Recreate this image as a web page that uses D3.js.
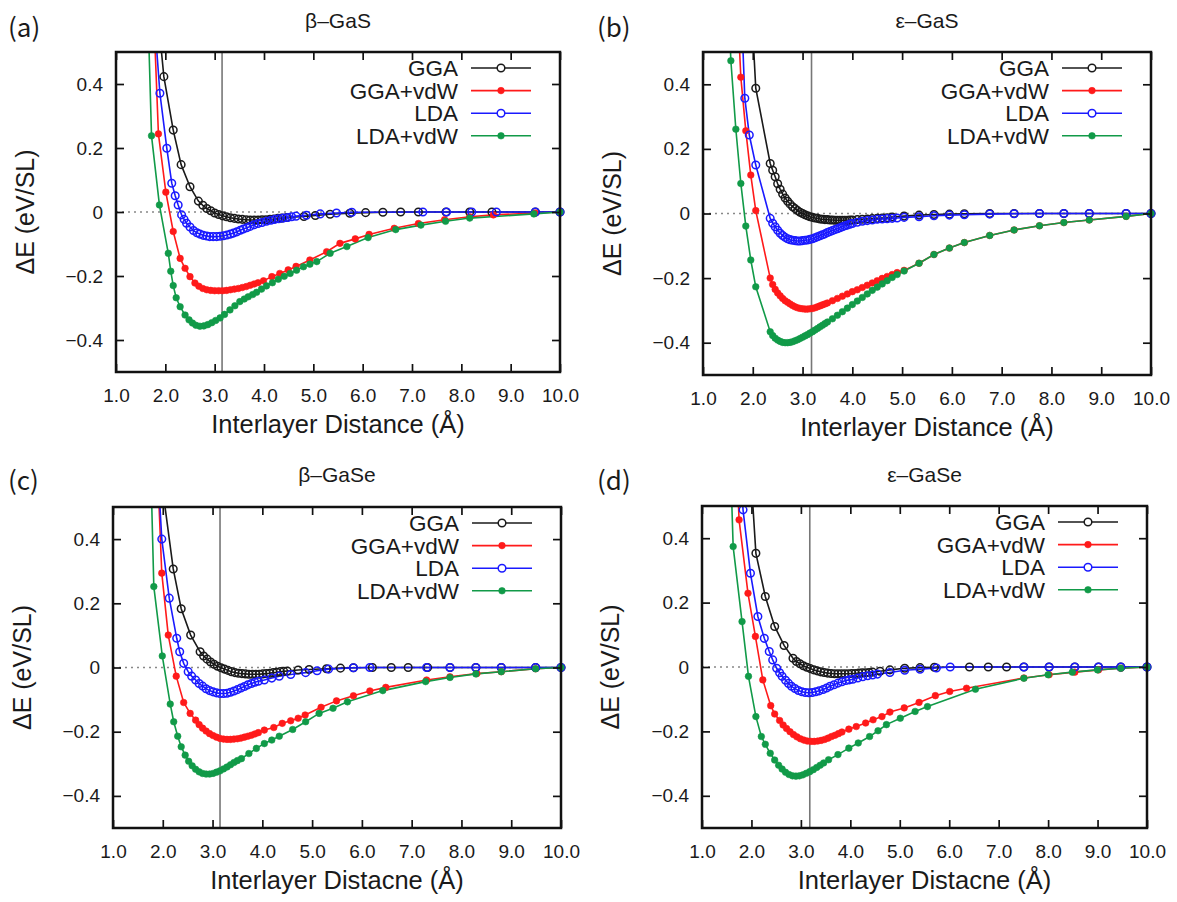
<!DOCTYPE html>
<html>
<head>
<meta charset="utf-8">
<script src="https://cdn.jsdelivr.net/npm/d3@7/dist/d3.min.js"></script>
<style>
  body { margin: 0; background: #fff; }
  text { font-family: "Liberation Sans", Arial, sans-serif; fill: #1a1a1a; }
  .lbl { font-family: "Noto Sans CJK KR", "Noto Sans", sans-serif; }
</style>
</head>
<body>
<svg id="chart" width="1177" height="902"></svg>
<script>
// Series names, ticks and reference lines.
var seriesNames = ["GGA", "GGA+vdW", "LDA", "LDA+vdW"];
var xTicks = [1, 2, 3, 4, 5, 6, 7, 8, 9, 10];
var yTicks = [-0.4, -0.2, 0, 0.2, 0.4];
var panelTitles = ["β–GaS", "ε–GaS", "β–GaSe", "ε–GaSe"];
var xTitles = ["Interlayer Distance (Å)", "Interlayer Distance (Å)", "Interlayer Distacne (Å)", "Interlayer Distacne (Å)"];
var refDistance = [3.15, 3.18, 3.15, 3.18];

// (a) beta-GaS, [distance, dE]
var aGGA = [[1.86,0.60],[1.97,0.423],[2.16,0.256],[2.32,0.148],[2.50,0.079],[2.67,0.034],[2.76,0.021],[2.84,0.011],[2.92,0.004],[3.00,-0.003],[3.08,-0.008],[3.16,-0.012],[3.24,-0.015],[3.32,-0.018],[3.40,-0.020],[3.48,-0.022],[3.56,-0.023],[3.64,-0.024],[3.72,-0.025],[3.80,-0.025],[3.88,-0.025],[3.96,-0.024],[4.04,-0.024],[4.12,-0.023],[4.20,-0.022],[4.28,-0.020],[4.36,-0.019],[4.46,-0.017],[4.81,-0.014],[5.04,-0.011],[5.34,-0.007],[5.74,-0.004],[6.06,-0.002],[6.41,-0.001],[6.77,0],[7.13,0],[7.69,0],[8.17,0],[8.62,0],[9.50,0],[10.0,0]];
var aGGAvdW = [[1.78,0.56],[1.86,0.244],[2.01,0.062],[2.16,-0.061],[2.30,-0.145],[2.40,-0.176],[2.50,-0.202],[2.60,-0.222],[2.68,-0.232],[2.76,-0.239],[2.84,-0.243],[2.92,-0.245],[3.00,-0.246],[3.08,-0.246],[3.16,-0.246],[3.24,-0.245],[3.32,-0.243],[3.40,-0.241],[3.48,-0.239],[3.56,-0.236],[3.64,-0.233],[3.72,-0.229],[3.80,-0.225],[3.88,-0.221],[3.99,-0.215],[4.16,-0.202],[4.32,-0.192],[4.49,-0.181],[4.65,-0.170],[4.93,-0.150],[5.27,-0.124],[5.54,-0.098],[5.85,-0.084],[6.13,-0.070],[6.64,-0.051],[7.13,-0.036],[7.66,-0.024],[8.17,-0.015],[8.65,-0.009],[9.50,-0.003],[10.0,0]];
var aLDA = [[1.80,0.56],[1.89,0.371],[2.03,0.199],[2.13,0.090],[2.20,0.051],[2.26,0.022],[2.33,-0.009],[2.38,-0.023],[2.43,-0.035],[2.50,-0.047],[2.57,-0.058],[2.64,-0.065],[2.70,-0.069],[2.77,-0.073],[2.84,-0.075],[2.90,-0.077],[2.97,-0.077],[3.04,-0.077],[3.11,-0.076],[3.18,-0.074],[3.25,-0.072],[3.32,-0.069],[3.38,-0.066],[3.45,-0.062],[3.52,-0.057],[3.58,-0.053],[3.65,-0.049],[3.72,-0.045],[3.80,-0.040],[3.88,-0.036],[3.96,-0.033],[4.05,-0.029],[4.14,-0.026],[4.22,-0.023],[4.30,-0.021],[4.39,-0.019],[4.48,-0.017],[4.56,-0.015],[4.65,-0.013],[4.86,-0.010],[5.14,-0.006],[5.47,-0.003],[5.78,-0.001],[7.22,0],[7.70,0],[8.21,0],[8.71,0],[9.50,0],[10.0,0]];
var aLDAvdW = [[1.66,0.56],[1.72,0.238],[1.88,0.022],[2.06,-0.129],[2.11,-0.185],[2.16,-0.230],[2.22,-0.268],[2.30,-0.296],[2.40,-0.322],[2.48,-0.337],[2.55,-0.347],[2.62,-0.354],[2.70,-0.357],[2.78,-0.356],[2.86,-0.352],[2.94,-0.346],[3.02,-0.339],[3.11,-0.331],[3.20,-0.320],[3.31,-0.306],[3.41,-0.293],[3.51,-0.280],[3.60,-0.272],[3.68,-0.265],[3.77,-0.258],[3.85,-0.251],[3.95,-0.241],[4.05,-0.231],[4.17,-0.221],[4.29,-0.210],[4.41,-0.201],[4.53,-0.192],[4.66,-0.182],[4.80,-0.171],[4.93,-0.163],[5.07,-0.155],[5.34,-0.129],[5.68,-0.108],[6.11,-0.080],[6.67,-0.055],[7.18,-0.041],[7.68,-0.029],[8.17,-0.019],[9.47,-0.006],[10.0,0]];

// (b) epsilon-GaS
var bGGA = [[1.98,0.62],[2.06,0.388],[2.35,0.155],[2.40,0.134],[2.45,0.114],[2.50,0.092],[2.55,0.075],[2.60,0.060],[2.65,0.048],[2.70,0.038],[2.75,0.029],[2.80,0.021],[2.85,0.015],[2.90,0.009],[2.95,0.004],[3.00,0.000],[3.05,-0.004],[3.10,-0.007],[3.15,-0.010],[3.20,-0.012],[3.25,-0.014],[3.30,-0.015],[3.35,-0.017],[3.40,-0.018],[3.45,-0.019],[3.50,-0.019],[3.55,-0.020],[3.60,-0.020],[3.65,-0.021],[3.70,-0.021],[3.75,-0.021],[3.80,-0.021],[3.85,-0.021],[3.90,-0.021],[3.95,-0.020],[4.00,-0.020],[4.10,-0.019],[4.20,-0.018],[4.30,-0.017],[4.40,-0.016],[4.50,-0.015],[4.60,-0.014],[4.70,-0.013],[4.80,-0.011],[5.04,-0.008],[5.34,-0.005],[5.64,-0.003],[5.95,-0.002],[6.25,-0.001],[6.76,0],[7.25,0],[7.76,0],[8.25,0],[8.76,0],[9.50,0],[10.0,0]];
var bGGAvdW = [[1.70,0.62],[1.76,0.422],[1.86,0.256],[1.96,0.119],[2.06,0.009],[2.35,-0.200],[2.40,-0.220],[2.45,-0.235],[2.50,-0.246],[2.55,-0.255],[2.60,-0.263],[2.65,-0.270],[2.70,-0.275],[2.75,-0.280],[2.80,-0.285],[2.85,-0.289],[2.90,-0.292],[2.95,-0.294],[3.00,-0.295],[3.05,-0.296],[3.10,-0.296],[3.15,-0.295],[3.20,-0.294],[3.25,-0.292],[3.30,-0.289],[3.35,-0.286],[3.40,-0.283],[3.45,-0.280],[3.50,-0.277],[3.60,-0.270],[3.70,-0.263],[3.80,-0.256],[3.90,-0.249],[4.00,-0.242],[4.10,-0.236],[4.20,-0.229],[4.30,-0.222],[4.40,-0.215],[4.50,-0.208],[4.60,-0.201],[4.70,-0.195],[4.80,-0.189],[4.90,-0.183],[5.04,-0.176],[5.34,-0.154],[5.64,-0.127],[5.95,-0.107],[6.25,-0.090],[6.76,-0.068],[7.25,-0.051],[7.76,-0.038],[8.25,-0.028],[8.76,-0.020],[9.50,-0.009],[10.0,0]];
var bLDA = [[1.78,0.60],[1.84,0.357],[1.93,0.243],[2.06,0.150],[2.35,-0.015],[2.40,-0.030],[2.45,-0.041],[2.50,-0.052],[2.55,-0.061],[2.60,-0.068],[2.65,-0.074],[2.70,-0.078],[2.75,-0.081],[2.80,-0.083],[2.85,-0.084],[2.90,-0.085],[2.95,-0.085],[3.00,-0.084],[3.05,-0.083],[3.10,-0.082],[3.15,-0.080],[3.20,-0.078],[3.25,-0.075],[3.30,-0.072],[3.35,-0.069],[3.40,-0.066],[3.45,-0.063],[3.50,-0.059],[3.55,-0.056],[3.60,-0.053],[3.65,-0.050],[3.70,-0.047],[3.75,-0.044],[3.80,-0.041],[3.85,-0.038],[3.90,-0.036],[3.95,-0.033],[4.00,-0.031],[4.10,-0.027],[4.20,-0.024],[4.30,-0.022],[4.40,-0.020],[4.50,-0.018],[4.60,-0.017],[4.70,-0.016],[4.80,-0.015],[4.90,-0.014],[5.04,-0.012],[5.34,-0.010],[5.64,-0.007],[5.95,-0.005],[6.25,-0.004],[6.76,-0.002],[7.25,-0.001],[7.76,0],[8.25,0],[8.76,0],[9.50,0],[10.0,0]];
var bLDAvdW = [[1.52,0.62],[1.56,0.473],[1.66,0.261],[1.76,0.093],[1.86,-0.039],[1.96,-0.144],[2.06,-0.227],[2.35,-0.366],[2.40,-0.378],[2.45,-0.386],[2.50,-0.392],[2.55,-0.396],[2.60,-0.399],[2.65,-0.400],[2.70,-0.400],[2.75,-0.399],[2.80,-0.397],[2.85,-0.394],[2.90,-0.391],[2.95,-0.387],[3.00,-0.383],[3.05,-0.379],[3.10,-0.375],[3.15,-0.370],[3.20,-0.366],[3.25,-0.361],[3.30,-0.356],[3.35,-0.351],[3.40,-0.346],[3.45,-0.341],[3.50,-0.336],[3.60,-0.326],[3.70,-0.315],[3.80,-0.304],[3.90,-0.293],[4.00,-0.282],[4.10,-0.271],[4.20,-0.260],[4.30,-0.249],[4.40,-0.238],[4.50,-0.228],[4.60,-0.218],[4.70,-0.208],[4.80,-0.198],[4.90,-0.189],[5.04,-0.178],[5.34,-0.154],[5.64,-0.127],[5.95,-0.107],[6.25,-0.090],[6.76,-0.068],[7.25,-0.051],[7.76,-0.038],[8.25,-0.028],[8.76,-0.020],[9.50,-0.009],[10.0,0]];

// (c) beta-GaSe
var cGGA = [[1.98,0.64],[2.02,0.53],[2.21,0.307],[2.37,0.183],[2.56,0.101],[2.75,0.049],[2.82,0.036],[2.89,0.026],[2.96,0.017],[3.03,0.010],[3.10,0.004],[3.17,-0.001],[3.24,-0.005],[3.31,-0.009],[3.38,-0.013],[3.45,-0.016],[3.52,-0.018],[3.59,-0.019],[3.66,-0.020],[3.73,-0.021],[3.80,-0.021],[3.87,-0.021],[3.94,-0.021],[4.01,-0.020],[4.08,-0.019],[4.15,-0.018],[4.22,-0.016],[4.29,-0.015],[4.36,-0.013],[4.43,-0.012],[4.50,-0.011],[4.72,-0.008],[4.94,-0.006],[5.29,-0.004],[5.57,-0.002],[5.83,-0.001],[6.21,0],[6.59,0],[6.93,0],[7.32,0],[7.77,0],[8.29,0],[8.80,0],[9.49,0],[10.0,0]];
var cGGAvdW = [[1.90,0.60],[1.98,0.294],[2.11,0.101],[2.27,-0.027],[2.42,-0.109],[2.55,-0.143],[2.66,-0.164],[2.73,-0.178],[2.80,-0.189],[2.87,-0.198],[2.94,-0.206],[3.01,-0.212],[3.08,-0.217],[3.15,-0.221],[3.22,-0.223],[3.29,-0.224],[3.36,-0.224],[3.43,-0.223],[3.50,-0.222],[3.57,-0.220],[3.64,-0.217],[3.71,-0.214],[3.78,-0.211],[3.85,-0.207],[3.92,-0.203],[4.04,-0.195],[4.23,-0.187],[4.40,-0.174],[4.57,-0.166],[4.72,-0.158],[4.86,-0.148],[5.18,-0.124],[5.49,-0.104],[5.83,-0.088],[6.16,-0.073],[6.48,-0.062],[7.30,-0.039],[7.77,-0.029],[8.31,-0.019],[8.80,-0.013],[9.49,-0.004],[10.0,0]];
var cLDA = [[1.90,0.62],[1.98,0.400],[2.13,0.216],[2.28,0.091],[2.34,0.049],[2.42,0.013],[2.51,-0.013],[2.58,-0.027],[2.66,-0.039],[2.73,-0.050],[2.80,-0.058],[2.87,-0.066],[2.94,-0.072],[3.01,-0.076],[3.08,-0.079],[3.15,-0.081],[3.22,-0.081],[3.29,-0.080],[3.36,-0.077],[3.43,-0.073],[3.50,-0.069],[3.57,-0.064],[3.64,-0.059],[3.71,-0.054],[3.78,-0.050],[3.85,-0.046],[3.92,-0.043],[4.04,-0.039],[4.19,-0.033],[4.34,-0.027],[4.57,-0.022],[4.87,-0.016],[5.10,-0.010],[5.33,-0.005],[5.83,-0.001],[6.16,0],[7.30,0],[7.77,0],[8.29,0],[8.80,0],[9.49,0],[10.0,0]];
var cLDAvdW = [[1.76,0.62],[1.82,0.252],[1.99,0.036],[2.15,-0.114],[2.22,-0.169],[2.30,-0.214],[2.37,-0.247],[2.45,-0.273],[2.52,-0.292],[2.59,-0.306],[2.66,-0.317],[2.73,-0.325],[2.80,-0.330],[2.87,-0.332],[2.94,-0.332],[3.01,-0.330],[3.08,-0.326],[3.15,-0.322],[3.22,-0.316],[3.29,-0.310],[3.36,-0.303],[3.43,-0.296],[3.50,-0.290],[3.58,-0.284],[3.73,-0.268],[3.88,-0.252],[4.04,-0.237],[4.19,-0.226],[4.34,-0.214],[4.61,-0.193],[4.87,-0.169],[5.14,-0.143],[5.42,-0.127],[5.71,-0.107],[6.42,-0.072],[7.28,-0.044],[7.77,-0.031],[8.29,-0.020],[8.80,-0.013],[9.49,-0.004],[10.0,0]];

// (d) epsilon-GaSe
var dGGA = [[1.98,0.62],[2.09,0.353],[2.28,0.219],[2.47,0.126],[2.66,0.067],[2.84,0.027],[2.91,0.017],[2.98,0.010],[3.05,0.004],[3.12,-0.001],[3.19,-0.005],[3.26,-0.009],[3.33,-0.012],[3.40,-0.015],[3.47,-0.017],[3.54,-0.019],[3.61,-0.020],[3.68,-0.021],[3.75,-0.021],[3.82,-0.021],[3.89,-0.021],[3.96,-0.021],[4.03,-0.020],[4.10,-0.020],[4.17,-0.019],[4.24,-0.018],[4.31,-0.018],[4.38,-0.017],[4.45,-0.016],[4.60,-0.013],[4.80,-0.009],[5.10,-0.004],[5.41,-0.002],[5.70,-0.001],[6.41,0],[6.79,0],[7.16,0],[7.51,0],[8.02,0],[8.54,0],[9.02,0],[9.47,0],[10.0,0]];
var dGGAvdW = [[1.70,0.64],[1.75,0.457],[1.93,0.229],[2.08,0.095],[2.23,-0.040],[2.39,-0.120],[2.47,-0.146],[2.57,-0.166],[2.64,-0.180],[2.71,-0.191],[2.78,-0.201],[2.85,-0.210],[2.92,-0.217],[2.99,-0.223],[3.06,-0.227],[3.13,-0.230],[3.20,-0.231],[3.27,-0.231],[3.34,-0.230],[3.41,-0.228],[3.48,-0.225],[3.55,-0.221],[3.62,-0.216],[3.69,-0.212],[3.76,-0.207],[3.83,-0.202],[3.97,-0.193],[4.12,-0.185],[4.31,-0.174],[4.46,-0.164],[4.64,-0.154],[4.80,-0.140],[5.09,-0.127],[5.39,-0.110],[5.72,-0.089],[6.01,-0.076],[6.35,-0.066],[7.51,-0.034],[8.02,-0.024],[8.54,-0.016],[9.02,-0.009],[9.47,-0.004],[10.0,0]];
var dLDA = [[1.78,0.62],[1.83,0.488],[1.98,0.291],[2.13,0.157],[2.26,0.089],[2.36,0.048],[2.43,0.022],[2.51,-0.004],[2.57,-0.018],[2.62,-0.029],[2.69,-0.041],[2.75,-0.051],[2.81,-0.060],[2.88,-0.067],[2.95,-0.073],[3.02,-0.077],[3.09,-0.079],[3.16,-0.080],[3.23,-0.079],[3.30,-0.077],[3.37,-0.074],[3.45,-0.070],[3.52,-0.065],[3.59,-0.060],[3.67,-0.055],[3.75,-0.050],[3.83,-0.046],[3.91,-0.042],[3.98,-0.040],[4.05,-0.038],[4.15,-0.034],[4.25,-0.030],[4.35,-0.027],[4.45,-0.025],[4.55,-0.022],[4.80,-0.017],[5.10,-0.010],[5.41,-0.007],[5.74,-0.003],[6.02,0],[7.51,0],[8.02,0],[8.54,0],[9.02,0],[9.47,0],[10.0,0]];
var dLDAvdW = [[1.58,0.62],[1.63,0.374],[1.81,0.141],[1.94,-0.029],[2.09,-0.154],[2.20,-0.216],[2.28,-0.240],[2.38,-0.268],[2.47,-0.289],[2.55,-0.305],[2.62,-0.317],[2.69,-0.327],[2.76,-0.334],[2.83,-0.338],[2.90,-0.339],[2.97,-0.338],[3.04,-0.335],[3.11,-0.330],[3.18,-0.325],[3.25,-0.319],[3.32,-0.312],[3.39,-0.305],[3.46,-0.298],[3.56,-0.288],[3.75,-0.272],[3.97,-0.252],[4.16,-0.236],[4.39,-0.216],[4.56,-0.198],[4.73,-0.179],[5.01,-0.159],[5.31,-0.138],[5.56,-0.123],[6.53,-0.069],[7.51,-0.035],[8.00,-0.024],[8.49,-0.016],[9.00,-0.009],[9.47,-0.004],[10.0,0]];

// Layout and styles.
var my = {
  colors: ["#1a1a1a", "#ff1a1a", "#1a1aff", "#119a48"],
  filled: [false, true, false, true],
  tickLen: 8,
  panels: [
    {id: "a", box: [116, 52, 560, 372], data: [aGGA, aGGAvdW, aLDA, aLDAvdW], label: [8, 37], titleY: 28, yTitleX: 25},
    {id: "b", box: [703, 52, 1151, 375], data: [bGGA, bGGAvdW, bLDA, bLDAvdW], label: [597, 37], titleY: 28, yTitleX: 612},
    {id: "c", box: [113, 507, 561, 828], data: [cGGA, cGGAvdW, cLDA, cLDAvdW], label: [8, 490], titleY: 482, yTitleX: 22},
    {id: "d", box: [702, 506, 1147, 828], data: [dGGA, dGGAvdW, dLDA, dLDAvdW], label: [597, 490], titleY: 482, yTitleX: 610}
  ]
};

var svg = d3.select("#chart");
var yFormat = function(d){ return d === 0 ? "0" : d3.format(".1f")(d); };

my.panels.forEach(function(p, i){
  var left = p.box[0], top = p.box[1], right = p.box[2], bottom = p.box[3];
  var x = d3.scaleLinear().domain([1, 10]).range([left, right]);
  var y = d3.scaleLinear().domain([-0.5, 0.5]).range([bottom, top]);
  var g = svg.append("g").attr("id", "panel-" + p.id);

  svg.append("clipPath").attr("id", "clip-" + p.id)
    .append("rect").attr("x", left).attr("y", top)
    .attr("width", right - left).attr("height", bottom - top);
  var plot = g.append("g").attr("clip-path", "url(#clip-" + p.id + ")");

  // Zero line and the reference distance.
  plot.append("line")
    .attr("x1", x(1)).attr("x2", x(10)).attr("y1", y(0)).attr("y2", y(0))
    .attr("stroke", "#888").attr("stroke-width", 1.6).attr("stroke-dasharray", "2,4");
  plot.append("line")
    .attr("x1", x(refDistance[i])).attr("x2", x(refDistance[i]))
    .attr("y1", y(-0.5)).attr("y2", y(0.5))
    .attr("stroke", "#777").attr("stroke-width", 1.6);

  var line = d3.line().x(function(d){ return x(d[0]); }).y(function(d){ return y(d[1]); });

  p.data.forEach(function(s, k){
    plot.append("path").datum(s).attr("d", line)
      .attr("fill", "none").attr("stroke", my.colors[k]).attr("stroke-width", 1.6);
    g.append("g").selectAll("circle")
      .data(s.filter(function(d){ return d[1] <= 0.5; }))
      .enter().append("circle")
      .attr("cx", function(d){ return x(d[0]); })
      .attr("cy", function(d){ return y(d[1]); })
      .attr("r", my.filled[k] ? 3.3 : 3.8)
      .attr("fill", my.filled[k] ? my.colors[k] : "none")
      .attr("stroke", my.colors[k])
      .attr("stroke-width", my.filled[k] ? 0.6 : 1.5);
  });

  // Axes, ticks pointing inward on all sides.
  var ax = g.append("g").attr("transform", "translate(0," + bottom + ")")
    .call(d3.axisBottom(x).tickValues(xTicks).tickFormat(d3.format(".1f"))
      .tickSizeInner(-my.tickLen).tickSizeOuter(0).tickPadding(17));
  var ay = g.append("g").attr("transform", "translate(" + left + ",0)")
    .call(d3.axisLeft(y).tickValues(yTicks).tickFormat(yFormat)
      .tickSizeInner(-my.tickLen).tickSizeOuter(0).tickPadding(13));
  var axt = g.append("g").attr("transform", "translate(0," + top + ")")
    .call(d3.axisTop(x).tickValues(xTicks).tickFormat("").tickSizeInner(-my.tickLen).tickSizeOuter(0));
  var ayr = g.append("g").attr("transform", "translate(" + right + ",0)")
    .call(d3.axisRight(y).tickValues(yTicks).tickFormat("").tickSizeInner(-my.tickLen).tickSizeOuter(0));
  [ax, ay, axt, ayr].forEach(function(a){
    a.select(".domain").remove();
    a.selectAll(".tick line").attr("stroke", "#111").attr("stroke-width", 1.7);
    a.selectAll("text").attr("font-size", 19).attr("fill", "#222")
      .attr("font-family", "'Liberation Sans', Arial, sans-serif");
  });

  g.append("rect").attr("x", left).attr("y", top)
    .attr("width", right - left).attr("height", bottom - top)
    .attr("fill", "none").attr("stroke", "#111").attr("stroke-width", 2.5);

  // Titles.
  g.append("text").attr("class", "lbl").attr("x", p.label[0]).attr("y", p.label[1])
    .attr("font-size", 26).text("(" + p.id + ")");
  g.append("text").attr("x", (left + right) / 2).attr("y", p.titleY)
    .attr("text-anchor", "middle").attr("font-size", 21).text(panelTitles[i]);
  g.append("text").attr("x", (left + right) / 2).attr("y", bottom + 61)
    .attr("text-anchor", "middle").attr("font-size", 25.5).text(xTitles[i]);
  g.append("text")
    .attr("transform", "translate(" + p.yTitleX + "," + ((top + bottom) / 2) + ") rotate(-90)")
    .attr("text-anchor", "middle").attr("dy", "0.35em").attr("font-size", 25)
    .text("ΔE (eV/SL)");

  // Legend.
  var lg = g.append("g").attr("transform", "translate(" + right + "," + top + ")");
  seriesNames.forEach(function(name, k){
    var ly = 16 + k * 22.6;
    lg.append("text").attr("x", -102).attr("y", ly).attr("dy", "0.36em")
      .attr("text-anchor", "end").attr("font-size", 22.5).text(name);
    lg.append("line").attr("x1", -89).attr("x2", -29).attr("y1", ly).attr("y2", ly)
      .attr("stroke", my.colors[k]).attr("stroke-width", 1.6);
    lg.append("circle").attr("cx", -59).attr("cy", ly)
      .attr("r", my.filled[k] ? 3.3 : 3.8)
      .attr("fill", my.filled[k] ? my.colors[k] : "#fff")
      .attr("stroke", my.colors[k]).attr("stroke-width", my.filled[k] ? 0.6 : 1.5);
  });
});
</script>
</body>
</html>
